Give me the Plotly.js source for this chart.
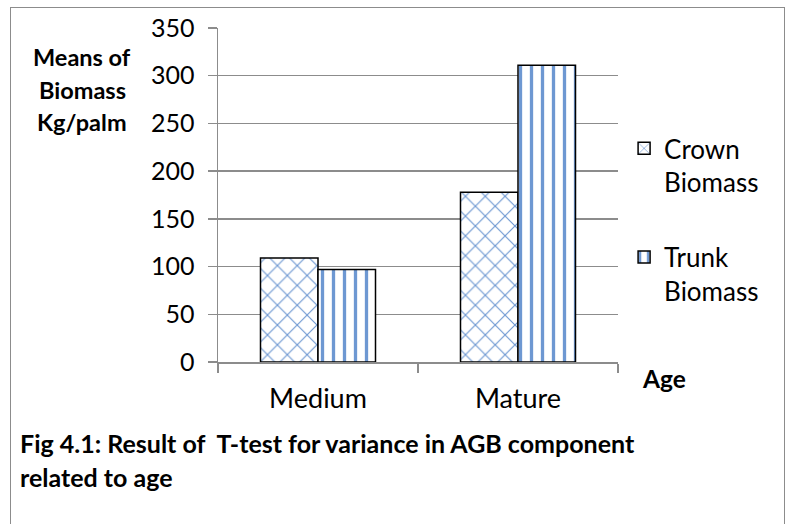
<!DOCTYPE html>
<html>
<head>
<meta charset="utf-8">
<script src="https://cdn.plot.ly/plotly-3.0.1.min.js"></script>
<style>
  html, body { margin: 0; padding: 0; background: #fff; }
  #wrap { position: relative; width: 787px; height: 524px; overflow: hidden; }
  #chart { position: absolute; left: 0; top: 0; width: 787px; height: 524px; }
  #frame { position: absolute; left: 10px; top: 7px; width: 775px; height: 530px;
           border: 1.5px solid #8c8c8c; pointer-events: none; box-sizing: border-box; }
</style>
</head>
<body>
<div id="wrap">
  <div id="chart"></div>
  <div id="frame"></div>
</div>
<script>
// Mean above-ground biomass per palm, by age class
const ageClasses = ["Medium", "Mature"];
const crownBiomass = [109, 178];
const trunkBiomass = [97, 311];
const yTicks = [0, 50, 100, 150, 200, 250, 300, 350];

const FONT = "Lato, 'Open Sans', sans-serif";
const BLUE = "#6e98d2";

const traces = [
  {
    type: "bar",
    name: "Crown<br>Biomass",
    legendgroup: "crown",
    x: ageClasses,
    y: crownBiomass,
    marker: {
      color: "#ffffff",
      line: { color: "#000000", width: 1.5 },
      pattern: { shape: "x", fgcolor: BLUE, bgcolor: "#ffffff", size: 14, solidity: 0.16 }
    }
  },
  {
    type: "bar",
    name: "Trunk<br>Biomass",
    legendgroup: "trunk",
    x: ageClasses,
    y: trunkBiomass,
    marker: {
      color: "#ffffff",
      line: { color: "#000000", width: 1.5 },
      pattern: { shape: "|", fgcolor: BLUE, bgcolor: "#ffffff", size: 11, solidity: 0.3 }
    }
  }
];

const layout = {
  width: 787,
  height: 524,
  margin: { l: 218, r: 169, t: 28, b: 162, autoexpand: false },
  paper_bgcolor: "#ffffff",
  plot_bgcolor: "#ffffff",
  font: { family: FONT, size: 26, color: "#000000" },
  barmode: "group",
  bargap: 0.425,
  bargroupgap: 0,
  showlegend: true,
  legend: {
    xref: "container", yref: "container",
    x: 0.793, xanchor: "left",
    y: 0.7615, yanchor: "top",
    font: { family: FONT, size: 26, color: "#000000" },
    tracegroupgap: 38,
    itemwidth: 30,
    valign: "top",
    bgcolor: "rgba(0,0,0,0)"
  },
  xaxis: {
    type: "category",
    showline: true,
    linecolor: "#8c8c8c",
    linewidth: 1.5,
    ticks: "outside",
    tickson: "boundaries",
    ticklen: 9,
    tickcolor: "#8c8c8c",
    tickwidth: 1.5,
    ticklabelstandoff: 12,
    showgrid: false,
    tickfont: { family: FONT, size: 27, color: "#000000" }
  },
  yaxis: {
    range: [0, 350],
    tickvals: yTicks,
    ticktext: yTicks.map(String),
    showline: true,
    linecolor: "#8c8c8c",
    linewidth: 1.5,
    ticks: "outside",
    ticklen: 9,
    tickcolor: "#8c8c8c",
    tickwidth: 1.5,
    ticklabelstandoff: 8,
    showgrid: true,
    gridcolor: "#8c8c8c",
    gridwidth: 1.5,
    zeroline: false,
    tickfont: { family: FONT, size: 25, color: "#000000" }
  },
  annotations: [
    { text: "<b>Means of</b>", xref: "paper", yref: "paper", x: -0.34, y: 0.913,
      xanchor: "center", yanchor: "middle", showarrow: false, font: { size: 23.5 } },
    { text: "<b>Biomass</b>", xref: "paper", yref: "paper", x: -0.34, y: 0.814,
      xanchor: "center", yanchor: "middle", showarrow: false, font: { size: 23.5 } },
    { text: "<b>Kg/palm</b>", xref: "paper", yref: "paper", x: -0.34, y: 0.719,
      xanchor: "center", yanchor: "middle", showarrow: false, font: { size: 23.5 } },
    { text: "<b>Age</b>", xref: "paper", yref: "paper", x: 1.055, y: -0.048,
      xanchor: "left", yanchor: "middle", showarrow: false, font: { size: 24.5 } },
    { text: "<b>Fig 4.1: Result of \u00a0T-test for variance in AGB component</b>",
      xref: "paper", yref: "paper", x: -0.5, y: -0.2425,
      xanchor: "left", yanchor: "middle", showarrow: false, font: { size: 25 } },
    { text: "<b>related to age</b>",
      xref: "paper", yref: "paper", x: -0.5, y: -0.344,
      xanchor: "left", yanchor: "middle", showarrow: false, font: { size: 25 } }
  ]
};

Plotly.newPlot("chart", traces, layout, { displayModeBar: false, staticPlot: true });
</script>
</body>
</html>
